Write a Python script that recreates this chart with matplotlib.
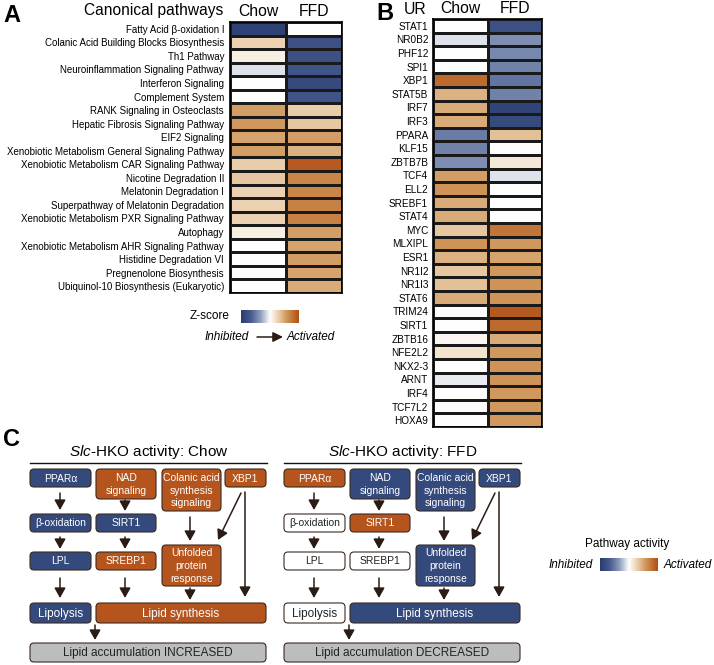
import numpy as np
import matplotlib
matplotlib.use("Agg")
import matplotlib.pyplot as plt
from matplotlib.colors import LinearSegmentedColormap, Normalize
from matplotlib.patches import FancyBboxPatch

plt.rcParams['font.family'] = ['Liberation Sans', 'DejaVu Sans']
plt.rcParams['mathtext.fontset'] = 'custom'
plt.rcParams['mathtext.rm'] = 'Liberation Sans'
plt.rcParams['mathtext.it'] = 'Liberation Sans:italic'

W, H = 714, 665

# ---- panel A: canonical pathways (z-scores) ----
pathways = [
    "Fatty Acid β-oxidation I",
    "Colanic Acid Building Blocks Biosynthesis",
    "Th1 Pathway",
    "Neuroinflammation Signaling Pathway",
    "Interferon Signaling",
    "Complement System",
    "RANK Signaling in Osteoclasts",
    "Hepatic Fibrosis Signaling Pathway",
    "EIF2 Signaling",
    "Xenobiotic Metabolism General Signaling Pathway",
    "Xenobiotic Metabolism CAR Signaling Pathway",
    "Nicotine Degradation II",
    "Melatonin Degradation I",
    "Superpathway of Melatonin Degradation",
    "Xenobiotic Metabolism PXR Signaling Pathway",
    "Autophagy",
    "Xenobiotic Metabolism AHR Signaling Pathway",
    "Histidine Degradation VI",
    "Pregnenolone Biosynthesis",
    "Ubiquinol-10 Biosynthesis (Eukaryotic)",
]
pathway_chow = [-2.8, 0.8, 0.3, -0.3, 0.0, 0.0, 1.6, 1.7, 1.5, 1.6,
                0.9, 1.0, 0.8, 0.8, 0.8, 0.3, 0.0, 0.0, 0.0, 0.0]
pathway_ffd = [0.0, -2.3, -2.3, -2.2, -2.5, -2.2, 0.9, 1.0, 1.6, 1.3,
               2.8, 2.0, 2.0, 2.1, 2.1, 1.6, 1.5, 1.6, 1.5, 1.4]

# ---- panel B: upstream regulators ----
ur_genes = ["STAT1", "NR0B2", "PHF12", "SPI1", "XBP1", "STAT5B", "IRF7", "IRF3",
            "PPARA", "KLF15", "ZBTB7B", "TCF4", "ELL2", "SREBF1", "STAT4", "MYC",
            "MLXIPL", "ESR1", "NR1I2", "NR1I3", "STAT6", "TRIM24", "SIRT1",
            "ZBTB16", "NFE2L2", "NKX2-3", "ARNT", "IRF4", "TCF7L2", "HOXA9"]
ur_chow = [0.0, -0.3, 0.0, 0.0, 2.5, 1.3, 1.4, 1.4, -1.5, -1.4, -1.2, 1.6, 1.8,
           1.4, 1.4, 1.0, 1.8, 1.3, 1.0, 1.1, 1.4, 0.0, 0.0, 0.15, 0.5, 0.0,
           -0.2, 0.0, 0.0, 0.0]
ur_ffd = [-2.3, -1.2, -1.3, -1.4, -1.6, -1.4, -2.7, -2.5, 1.1, 0.0, 0.4, -0.3,
          0.0, 0.0, 0.0, 2.3, 1.7, 1.5, 1.7, 1.8, 1.8, 2.8, 2.5, 1.4, 1.7, 1.8,
          1.8, 1.7, 1.7, 1.7]

# ---- panel C: pathway activity scheme (-1 inhibited, 0 none, 1 activated) ----
node_labels = ["PPARα", "NAD\nsignaling", "Colanic acid\nsynthesis\nsignaling", "XBP1",
               "β-oxidation", "SIRT1", "LPL", "SREBP1", "Unfolded\nprotein\nresponse",
               "Lipolysis", "Lipid synthesis", "Lipid accumulation {}"]
chow_state = [-1, 1, 1, 1, -1, -1, -1, 1, 1, -1, 1, None]
ffd_state = [1, -1, -1, -1, 0, 1, 0, 0, -1, 0, -1, None]
outcome = {"Chow": "INCREASED", "FFD": "DECREASED"}

cmap = LinearSegmentedColormap.from_list("z", [
    (0.0, "#293B70"), (1 / 6, "#465A8D"), (2 / 6, "#8D9CBC"), (0.5, "#FFFFFF"),
    (4 / 6, "#E7C7A1"), (0.75, "#D6A46E"), (5 / 6, "#CA8748"), (1.0, "#B04E16")])
norm = Normalize(-3, 3)
BLUE, ORANGE, GREY, DARK = "#34497C", "#B5541C", "#BDBDBD", "#2a1c14"

fig = plt.figure(figsize=(W / 100, H / 100), dpi=100)


def px_axes(x0, y0, x1, y1):
    return fig.add_axes([x0 / W, 1 - y1 / H, (x1 - x0) / W, (y1 - y0) / H])


bg = fig.add_axes([0, 0, 1, 1])
bg.set_xlim(0, W)
bg.set_ylim(H, 0)
bg.axis("off")


def heat(ax, chow, ffd, labels, fs, pad):
    data = np.column_stack([chow, ffd])
    ax.pcolormesh(data, cmap=cmap, norm=norm, edgecolors="#1a1a1a", linewidth=1.0)
    ax.set_xlim(0, 2)
    ax.set_ylim(len(labels), 0)
    ax.set_yticks(np.arange(len(labels)) + 0.5, labels, fontsize=fs)
    ax.set_xticks([0.5, 1.5], ["Chow", "FFD"], fontsize=11.3)
    ax.xaxis.tick_top()
    ax.tick_params(axis="y", length=0, pad=pad)
    ax.tick_params(axis="x", length=0, pad=2)
    for s in ax.spines.values():
        s.set_linewidth(1.2)


axA = px_axes(230, 22, 342, 293)
heat(axA, pathway_chow, pathway_ffd, pathways, 7.0, 4.3)
axB = px_axes(433, 19, 542, 427)
heat(axB, ur_chow, ur_ffd, ur_genes, 7.2, 3.5)

bg.text(223, 10, "Canonical pathways", fontsize=11.2, ha="right", va="center")
bg.text(426, 9, "UR", fontsize=11.3, ha="right", va="center")
bg.text(3, 15, "A", fontsize=17, fontweight="bold", va="center")
bg.text(376, 14, "B", fontsize=17, fontweight="bold", va="center")
bg.text(3, 439, "C", fontsize=17, fontweight="bold", va="center")

# z-score colorbar
grad = np.linspace(-3, 3, 256)[None, :]
cb = px_axes(241, 310, 299, 323)
cb.imshow(grad, cmap=cmap, norm=norm, aspect="auto")
cb.axis("off")
bg.text(229, 316, "Z-score", fontsize=8.5, ha="right", va="center")
bg.text(205, 337, "Inhibited", fontsize=8.5, style="italic", va="center")
bg.annotate("", xy=(283, 337), xytext=(257, 337),
            arrowprops=dict(arrowstyle="-|>,head_length=0.5,head_width=0.25",
                            color=DARK, lw=1.1, shrinkA=0, shrinkB=0, mutation_scale=12))
bg.text(287, 337, "Activated", fontsize=8.5, style="italic", va="center")

# pathway scheme
boxes = [(30, 469, 91, 487), (96, 469, 156, 499), (162, 469, 221, 511), (225, 469, 266, 487),
         (30, 514, 91, 532), (96, 514, 156, 532), (30, 552, 91, 570), (96, 552, 156, 570),
         (162, 545, 221, 586), (30, 603, 91, 623), (96, 603, 266, 623), (30, 643, 266, 662)]
arrows = [((60, 493), (60, 510)), ((125, 500), (125, 511)), ((190, 517), (190, 541)),
          ((241, 493), (218, 540)), ((245, 492), (245, 597)), ((60, 537), (60, 549)),
          ((125, 537), (125, 549)), ((60, 578), (60, 598)), ((125, 578), (125, 598)),
          ((190, 588), (190, 600)), ((95, 625), (95, 640))]


def scheme(dx, diet, states):
    bg.text(dx + 149, 452, r"$\it{Slc}$-HKO activity: " + diet, fontsize=11,
            ha="center", va="center")
    bg.plot([dx + 30, dx + 267], [463, 463], color="#111111", lw=1.0)
    for i, (x0, y0, x1, y1) in enumerate(boxes):
        st = states[i]
        face = GREY if st is None else {-1: BLUE, 0: "white", 1: ORANGE}[st]
        tc = "white" if st in (-1, 1) else "#222222"
        bg.add_patch(FancyBboxPatch((dx + x0, y0), x1 - x0, y1 - y0,
                                    boxstyle="round,pad=0,rounding_size=4",
                                    fc=face, ec="#3b2b22", lw=0.8))
        lab = node_labels[i].format(outcome[diet])
        fs = 8.5 if i in (9, 10, 11) else 7.5
        bg.text(dx + (x0 + x1) / 2, (y0 + y1) / 2 + 0.5, lab, color=tc, fontsize=fs,
                ha="center", va="center", linespacing=1.35)
    for (a, b) in arrows:
        bg.annotate("", xy=(dx + b[0], b[1]), xytext=(dx + a[0], a[1]),
                    arrowprops=dict(arrowstyle="-|>,head_length=0.5,head_width=0.28",
                                    color=DARK, lw=1.1, shrinkA=0, shrinkB=0,
                                    mutation_scale=12))


scheme(0, "Chow", chow_state)
scheme(254, "FFD", ffd_state)

# pathway activity legend
bg.text(627, 544, "Pathway activity", fontsize=8.5, ha="center", va="center")
cb2 = px_axes(600, 558, 658, 571)
cb2.imshow(grad, cmap=cmap, norm=norm, aspect="auto")
cb2.axis("off")
bg.text(593, 565, "Inhibited", fontsize=8.5, style="italic", ha="right", va="center")
bg.text(664, 565, "Activated", fontsize=8.5, style="italic", ha="left", va="center")

fig.savefig("out.png", dpi=100)
